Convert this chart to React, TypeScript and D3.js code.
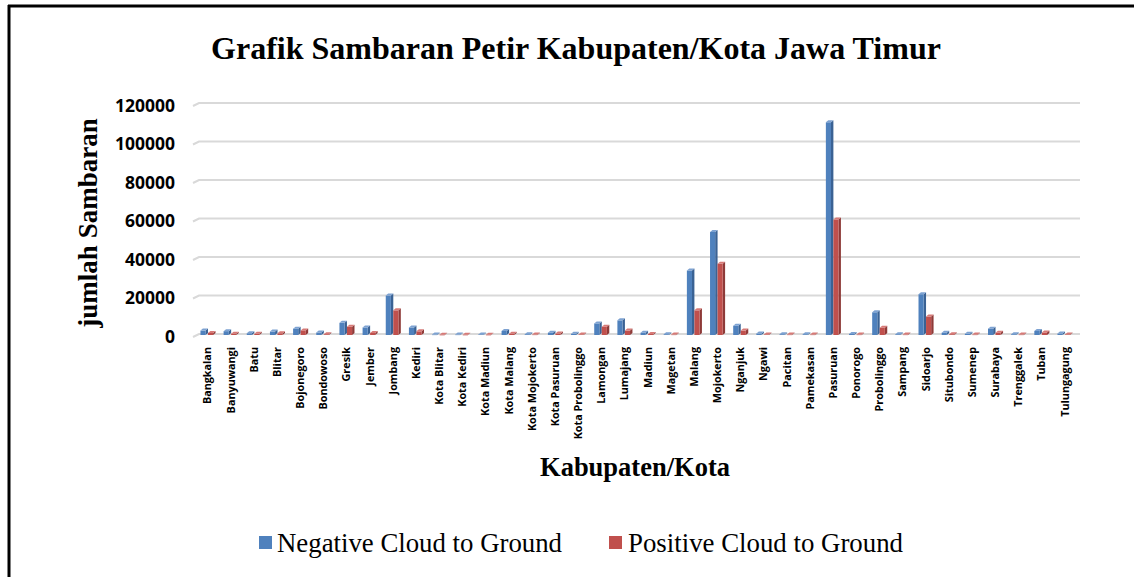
import { useEffect, useRef } from 'react'
import * as d3 from 'd3'

const categories = [
  'Bangkalan', 'Banyuwangi', 'Batu', 'Blitar', 'Bojonegoro', 'Bondowoso', 'Gresik', 'Jember',
  'Jombang', 'Kediri', 'Kota Blitar', 'Kota Kediri', 'Kota Madiun', 'Kota Malang', 'Kota Mojokerto',
  'Kota Pasuruan', 'Kota Probolinggo', 'Lamongan', 'Lumajang', 'Madiun', 'Magetan', 'Malang',
  'Mojokerto', 'Nganjuk', 'Ngawi', 'Pacitan', 'Pamekasan', 'Pasuruan', 'Ponorogo', 'Probolinggo',
  'Sampang', 'Sidoarjo', 'Situbondo', 'Sumenep', 'Surabaya', 'Trenggalek', 'Tuban', 'Tulungagung',
]

const negative = [
  2300, 2000, 900, 1800, 3300, 1300, 6300, 3900, 20500, 3900, 200, 200, 300, 2100, 400,
  1200, 600, 6000, 7600, 1200, 400, 33500, 53500, 4800, 800, 400, 400, 110500, 500, 11800,
  400, 21200, 1200, 600, 3300, 400, 2100, 800,
]

const positive = [
  1100, 700, 600, 900, 2400, 400, 4300, 1100, 12800, 1900, 100, 100, 100, 700, 200,
  800, 300, 4300, 2300, 500, 200, 12800, 37000, 2300, 300, 200, 200, 60000, 200, 3800,
  200, 9600, 400, 200, 1200, 200, 1300, 300,
]

const yTicks = [0, 20000, 40000, 60000, 80000, 100000, 120000]

const series = [
  { key: 'neg', label: 'Negative Cloud to Ground', values: negative, front: '#4f81bd', side: '#3a6294', top: '#7da2d2' },
  { key: 'pos', label: 'Positive Cloud to Ground', values: positive, front: '#c0504d', side: '#8e3a38', top: '#d77a77' },
]

export default function App() {
  const svgRef = useRef(null)

  useEffect(() => {
    const W = 1134
    const H = 577
    const svg = d3.select(svgRef.current)
    svg.selectAll('*').remove()
    svg.attr('width', W).attr('height', H)

    // frame (only top & left visible)
    svg.append('line').attr('x1', 8).attr('x2', W).attr('y1', 6).attr('y2', 6)
      .attr('stroke', '#000').attr('stroke-width', 3)
    svg.append('line').attr('x1', 9).attr('x2', 9).attr('y1', 5).attr('y2', H)
      .attr('stroke', '#000').attr('stroke-width', 3)

    const serif = '"Liberation Serif", "Times New Roman", serif'
    const sans = '"Open Sans", "Liberation Sans", sans-serif'

    // title
    svg.append('text')
      .attr('x', 576).attr('y', 59)
      .attr('text-anchor', 'middle')
      .attr('font-family', serif).attr('font-weight', 700).attr('font-size', 32)
      .attr('fill', '#000')
      .text('Grafik Sambaran Petir Kabupaten/Kota Jawa Timur')

    const x = d3.scaleBand()
      .domain(categories)
      .range([196.4, 1076.6])
      .paddingInner(0.35)
      .paddingOuter(0.175)

    const xs = d3.scaleBand().domain(series.map(s => s.key)).range([0, x.bandwidth()])

    const y = d3.scaleLinear().domain([0, 120000]).range([335, 104])

    const depth = 2.4
    const lift = 2

    // gridlines on back wall
    const grid = svg.append('g')
    yTicks.forEach(t => {
      const gy = y(t) - 1
      grid.append('path')
        .attr('d', `M193,${gy + 3}L199,${gy}L1080,${gy}`)
        .attr('fill', 'none')
        .attr('stroke', '#d9d9d9').attr('stroke-width', 2)
    })

    // y tick labels
    svg.append('g').selectAll('text')
      .data(yTicks).enter().append('text')
      .attr('x', 175).attr('y', d => y(d) + 3)
      .attr('text-anchor', 'end').attr('dominant-baseline', 'middle')
      .attr('font-family', sans).attr('font-weight', 700).attr('font-size', 17.5)
      .attr('fill', '#000')
      .text(d => d)

    // bars (pseudo 3D)
    const bars = svg.append('g')
    categories.forEach((c, i) => {
      series.forEach(s => {
        const v = s.values[i]
        const x0 = x(c) + xs(s.key)
        const fw = xs.bandwidth() - depth
        const yt = y(v)
        const yb = y(0)
        // side
        bars.append('path')
          .attr('d', `M${x0 + fw},${yt}L${x0 + fw + depth},${yt - lift}L${x0 + fw + depth},${yb - lift}L${x0 + fw},${yb}Z`)
          .attr('fill', s.side)
        // front
        bars.append('rect')
          .attr('x', x0).attr('y', yt)
          .attr('width', fw).attr('height', Math.max(0.5, yb - yt))
          .attr('fill', s.front)
        // top
        bars.append('path')
          .attr('d', `M${x0},${yt}L${x0 + depth},${yt - lift}L${x0 + fw + depth},${yt - lift}L${x0 + fw},${yt}Z`)
          .attr('fill', s.top)
      })
    })

    // category labels (rotated)
    svg.append('g').selectAll('text')
      .data(categories).enter().append('text')
      .attr('transform', d => `translate(${x(d) + x.bandwidth() / 2 + 3.5},347) rotate(-90)`)
      .attr('text-anchor', 'end')
      .attr('font-family', sans).attr('font-weight', 700).attr('font-size', 10.8)
      .attr('fill', '#000')
      .text(d => d)

    // axis titles
    svg.append('text')
      .attr('transform', 'translate(97,223) rotate(-90)')
      .attr('text-anchor', 'middle')
      .attr('font-family', serif).attr('font-weight', 700).attr('font-size', 27)
      .attr('fill', '#000')
      .text('jumlah Sambaran')

    svg.append('text')
      .attr('x', 635).attr('y', 476)
      .attr('text-anchor', 'middle')
      .attr('font-family', serif).attr('font-weight', 700).attr('font-size', 26.5)
      .attr('fill', '#000')
      .text('Kabupaten/Kota')

    // legend
    const legendPos = [{ sq: 259, tx: 277, len: 285 }, { sq: 609, tx: 628, len: 275 }]
    series.forEach((s, i) => {
      const p = legendPos[i]
      svg.append('rect')
        .attr('x', p.sq).attr('y', 536).attr('width', 13).attr('height', 13)
        .attr('fill', s.front)
      svg.append('text')
        .attr('x', p.tx).attr('y', 552)
        .attr('font-family', serif).attr('font-size', 27)
        .attr('textLength', p.len).attr('lengthAdjust', 'spacingAndGlyphs')
        .attr('fill', '#000')
        .text(s.label)
    })
  }, [])

  return (
    <div style={{ position: 'absolute', left: 0, top: 0, background: '#fff' }}>
      <svg ref={svgRef} style={{ display: 'block' }} />
    </div>
  )
}
